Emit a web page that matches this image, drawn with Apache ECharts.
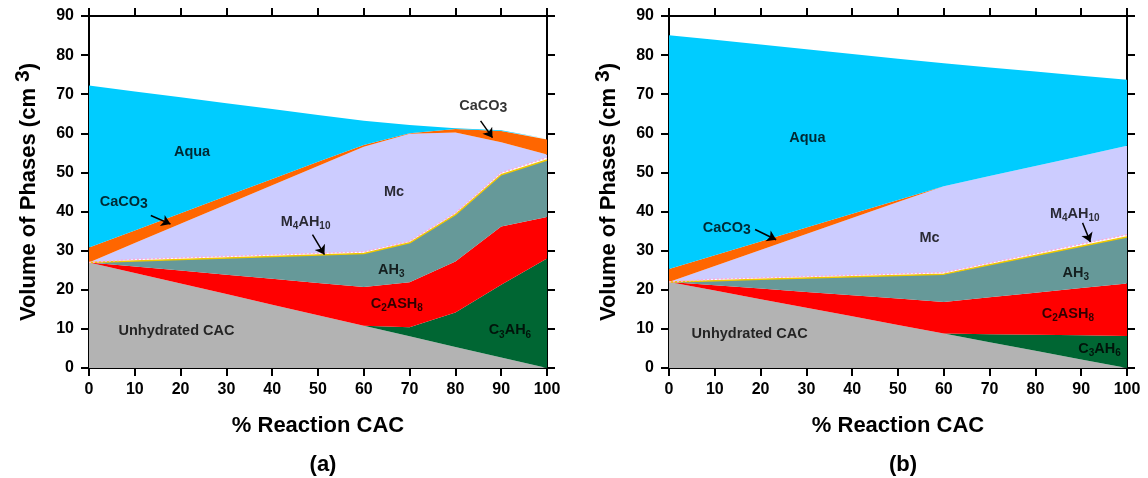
<!DOCTYPE html>
<html>
<head>
<meta charset="utf-8">
<script src="https://cdn.jsdelivr.net/npm/echarts@6/dist/echarts.min.js"></script>
<style>html,body{margin:0;padding:0;background:#fff}#c{width:1148px;height:478px}</style>
</head>
<body>
<div id="c"></div>
<script>
// ---- data ----
const xPct = [0, 10, 20, 30, 40, 50, 60, 70, 80, 90, 100];
const xTicks = [0, 10, 20, 30, 40, 50, 60, 70, 80, 90, 100];
const yTicks = [0, 10, 20, 30, 40, 50, 60, 70, 80, 90];
const phaseNames = ['Unhydrated CAC', 'C3AH6', 'C2ASH8', 'AH3', 'M4AH10', 'Mc', 'CaCO3', 'Aqua'];

// panel (a)
const cacA    = [27, 24.3, 21.6, 18.9, 16.2, 13.5, 10.8, 8.1, 5.4, 2.7, 0];
const c3ah6A  = [0, 0, 0, 0, 0, 0, 0, 2.3, 8.8, 18.6, 28];
const c2ash8A = [0, 1.65, 3.3, 4.95, 6.6, 8.25, 9.9, 11.5, 13.0, 14.9, 10.6];
const ah3A    = [0, 1.43, 2.87, 4.3, 5.73, 7.17, 8.6, 10.1, 12.0, 13.2, 14.6];
const m4ah10A = [0, 0.4, 0.4, 0.4, 0.4, 0.4, 0.4, 0.4, 0.4, 0.5, 0.6];
const mcA     = [0, 4.15, 8.7, 13.25, 17.8, 22.35, 26.9, 27.5, 20.6, 7.8, 0.8];
const caco3A  = [3.8, 3.25, 2.7, 2.15, 1.6, 1.05, 0.4, 0.1, 0.9, 2.9, 3.8];
const aquaA   = [41.4, 35.52, 29.63, 23.75, 17.87, 11.98, 6.2, 2.1, 0.2, 0.2, 0.2];

// panel (b)
const cacB    = [22, 19.8, 17.6, 15.4, 13.2, 11, 8.8, 6.6, 4.4, 2.2, 0];
const c3ah6B  = [0, 0, 0, 0, 0, 0, 0, 2.05, 4.1, 6.15, 8.2];
const c2ash8B = [0, 1.35, 2.7, 4.05, 5.4, 6.75, 8.1, 9.43, 10.75, 12.08, 13.4];
const ah3B    = [0, 1.18, 2.37, 3.55, 4.73, 5.92, 7.1, 8.3, 9.5, 10.7, 11.9];
const m4ah10B = [0, 0.4, 0.4, 0.4, 0.4, 0.4, 0.4, 0.45, 0.5, 0.55, 0.6];
const mcB     = [0, 3.35, 7.1, 10.85, 14.6, 18.35, 22.1, 22.25, 22.4, 22.55, 22.7];
const caco3B  = [3.3, 2.75, 2.2, 1.65, 1.1, 0.55, 0, 0, 0, 0, 0];
const aquaB   = [59.8, 55.07, 50.33, 45.6, 40.87, 36.13, 31.4, 27.77, 24.15, 20.52, 16.9];

const panelTitles = ['(a)', '(b)'];
const xTitle = '% Reaction CAC';

// ---- annotations (label text + data-space anchor) ----
const labelsA = [
  ['{b|Aqua}', 22.5, 55.1], ['{b|CaCO}{c|3}', 7.6, 42.5], ['{b|Mc}', 66.6, 45.0],
  ['{b|M}{s|4}{b|AH}{s|10}', 47.3, 37.3], ['{b|AH}{s|3}', 66.0, 25.1],
  ['{b|C}{s|2}{b|ASH}{s|8}', 67.2, 16.3], ['{b|Unhydrated CAC}', 19.1, 9.4],
  ['{b|C}{s|3}{b|AH}{s|6}', 91.9, 9.6], ['{b|CaCO}{c|3}', 86.1, 67.1]
];
const arrowsA = [[[13.5, 39.0], [17.8, 36.8]], [[48.8, 34.1], [51.4, 29.0]], [[85.5, 63.2], [88.1, 58.9]]];
const labelsB = [
  ['{b|Aqua}', 30.2, 58.9], ['{b|CaCO}{c|3}', 12.6, 35.8], ['{b|Mc}', 56.9, 33.2],
  ['{b|M}{s|4}{b|AH}{s|10}', 88.6, 39.5], ['{b|AH}{s|3}', 88.8, 24.3],
  ['{b|C}{s|2}{b|ASH}{s|8}', 87.1, 13.9], ['{b|Unhydrated CAC}', 17.6, 8.6],
  ['{b|C}{s|3}{b|AH}{s|6}', 94.0, 4.9]
];
const arrowsB = [[[18.8, 35.4], [23.4, 32.8]], [[90.3, 37.1], [92.0, 32.2]]];

// ---- styling ----
const FONT = '"Liberation Sans", Arial, sans-serif';
const phaseColors = ['#b3b3b3', '#006633', '#ff0000', '#669999', '#ffffff', '#ccccff', '#ff6600', '#00ccff'];
const rich = {
  b: { fontSize: 14.5, fontWeight: 'bold', color: '#000', fontFamily: FONT },
  s: { fontSize: 10, fontWeight: 'bold', color: '#000', fontFamily: FONT, padding: [9, 0, 0, 0] },
  c: { fontSize: 14, fontWeight: 'bold', color: '#000', fontFamily: FONT, padding: [5, 0, 0, 0] }
};

const panels = [
  { left: 89, right: 601, series: [cacA, c3ah6A, c2ash8A, ah3A, m4ah10A, mcA, caco3A, aquaA], labels: labelsA, arrows: arrowsA },
  { left: 669, right: 21, series: [cacB, c3ah6B, c2ash8B, ah3B, m4ah10B, mcB, caco3B, aquaB], labels: labelsB, arrows: arrowsB }
];

const axisLine = { show: true, onZero: false, lineStyle: { color: '#000', width: 2 } };
const axisTick = { show: true, inside: false, length: 8, lineStyle: { color: '#000', width: 2 } };
const labelStyle = { color: '#000', fontSize: 16, fontWeight: 'bold', fontFamily: FONT };

const option = { animation: false, backgroundColor: '#fff', grid: [], xAxis: [], yAxis: [], series: [], title: [] };

panels.forEach((p, i) => {
  option.grid.push({ left: p.left, right: p.right, top: 16, bottom: 110, containLabel: false });
  option.xAxis.push({
    type: 'value', gridIndex: i, position: 'bottom', min: xTicks[0], max: xTicks[xTicks.length - 1], interval: 10,
    axisLine, axisTick, splitLine: { show: false },
    axisLabel: Object.assign({ margin: 14 }, labelStyle),
    name: xTitle, nameLocation: 'middle', nameGap: 47,
    nameTextStyle: { color: '#000', fontSize: 22, fontWeight: 'bold', fontFamily: FONT }
  });
  option.xAxis.push({
    type: 'value', gridIndex: i, position: 'top', min: xTicks[0], max: xTicks[xTicks.length - 1], interval: 10,
    axisLine, axisTick, splitLine: { show: false }, axisLabel: { show: false }
  });
  option.yAxis.push({
    type: 'value', gridIndex: i, position: 'left', min: yTicks[0], max: yTicks[yTicks.length - 1], interval: 10,
    axisLine, axisTick, splitLine: { show: false },
    axisLabel: Object.assign({ margin: 15 }, labelStyle),
    name: '{n|Volume of Phases (cm }{p|3}{n|)}', nameLocation: 'middle', nameGap: 45, nameRotate: 90,
    nameTextStyle: {
      rich: {
        n: { fontSize: 22, fontWeight: 'bold', color: '#000', fontFamily: FONT },
        p: { fontSize: 21, fontWeight: 'bold', color: '#000', fontFamily: FONT, padding: [0, 0, 10, 0] }
      }
    }
  });
  option.yAxis.push({
    type: 'value', gridIndex: i, position: 'right', min: yTicks[0], max: yTicks[yTicks.length - 1], interval: 10,
    axisLine, axisTick, splitLine: { show: false }, axisLabel: { show: false }
  });

  p.series.forEach((vals, k) => {
    const isAH3 = k === 3, isM4 = k === 4;
    option.series.push({
      name: phaseNames[k], type: 'line', xAxisIndex: 2 * i, yAxisIndex: 2 * i,
      stack: 'phases' + i, showSymbol: false, symbol: 'none', z: 2,
      // value column first so the stack is applied to the volume, x (reaction %) second
      data: xPct.map((x, j) => [vals[j], x]),
      encode: { x: 1, y: 0 },
      areaStyle: { color: phaseColors[k], opacity: 1 },
      lineStyle: isAH3 ? { color: '#f0c800', width: 1.5 }
               : isM4 ? { color: '#ffaad4', width: 1.5, type: [2, 2] }
               : { width: 0, opacity: 0 }
    });
  });

  option.series.push({
    type: 'scatter', xAxisIndex: 2 * i, yAxisIndex: 2 * i, symbolSize: 0, z: 10, silent: true,
    data: p.labels.map(l => ({ value: [l[1], l[2]], label: { formatter: l[0] } })),
    label: { show: true, position: 'inside', rich }
  });
  option.series.push({
    type: 'lines', coordinateSystem: 'cartesian2d', xAxisIndex: 2 * i, yAxisIndex: 2 * i, z: 10, silent: true,
    symbol: ['none', 'arrow'], symbolSize: 9,
    lineStyle: { color: '#000', width: 1.5, opacity: 1 },
    data: p.arrows.map(a => ({ coords: a }))
  });

  option.title.push({
    text: panelTitles[i], left: p.left + (i === 0 ? (1148 - 601 - 89) / 2 : (1148 - 21 - 669) / 2), top: 449,
    textAlign: 'center',
    textStyle: { color: '#000', fontSize: 22, fontWeight: 'bold', fontFamily: FONT }
  });
});

const chart = echarts.init(document.getElementById('c'), null, { renderer: 'canvas' });
chart.setOption(option);
</script>
</body>
</html>
